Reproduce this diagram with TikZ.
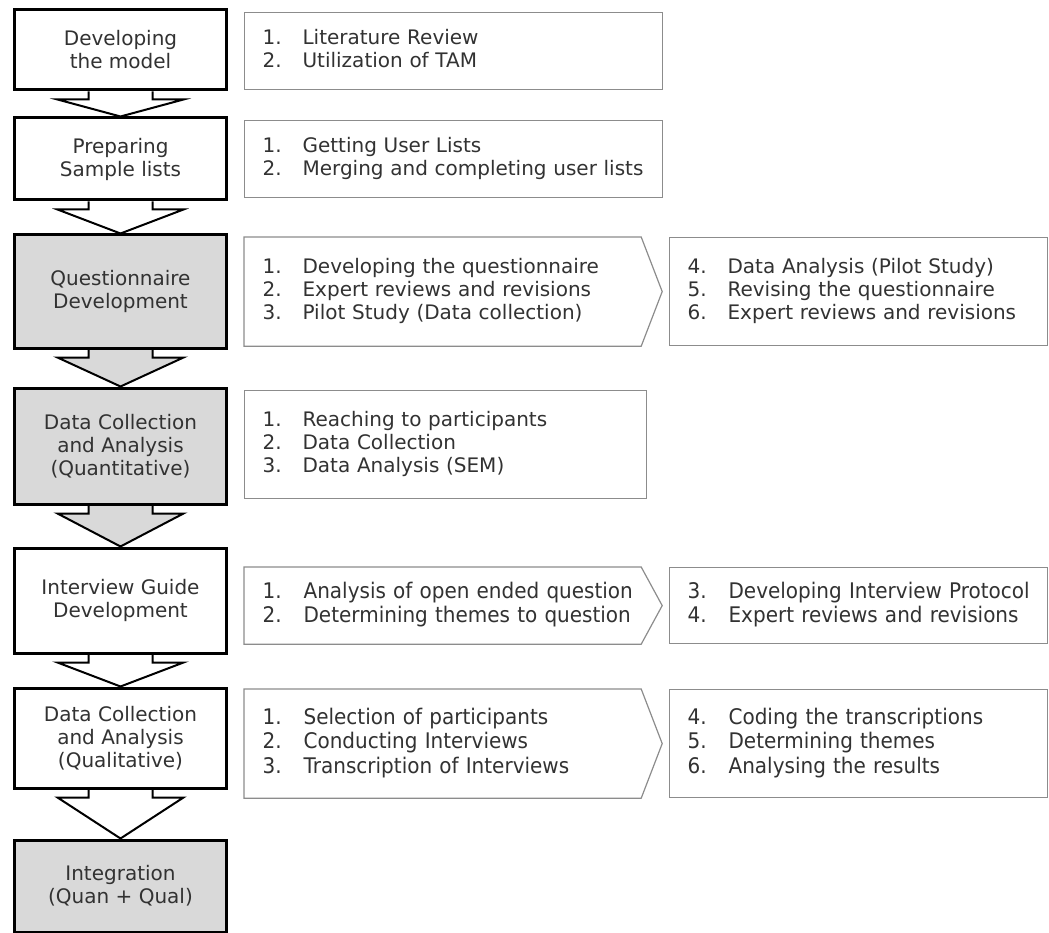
\documentclass[tikz,border=0pt]{standalone}
\usepackage{fontspec}
\setmainfont{DejaVu Sans}
\newfontfamily\narrowfont[FakeStretch=0.93]{DejaVu Sans}
\usepackage{xcolor}
\usetikzlibrary{calc,backgrounds}

\definecolor{boxgray}{RGB}{217,217,217}
\definecolor{linegray}{RGB}{140,140,140}
\definecolor{textgray}{RGB}{50,50,50}

\begin{document}
\begin{tikzpicture}[x=1pt, y=-1pt,
    stepbox/.style={draw, line width=3pt, fill=white, minimum width=212pt, inner sep=0pt,
        align=center, text=textgray, font=\fontsize{20}{23}\selectfont},
    listbox/.style={draw=linegray, line width=1.2pt, fill=white, anchor=north west,
        inner xsep=18pt, inner ysep=0pt, align=left, text=textgray, font=\fontsize{20}{23}\selectfont},
    narrowbox/.style={listbox, font=\narrowfont\fontsize{21.5}{24.5}\selectfont},
    listline/.style={draw=linegray, line width=1.2pt},
    flowarrow/.style={draw, line width=2pt, line join=miter}]
    \useasboundingbox (0,0) rectangle (1049,933);

    % Steps
    \node[stepbox, minimum height=80pt] (model) at (120.5,50) {Developing\\the model};
    \node[stepbox, minimum height=82pt] (sample) at (120.5,159) {Preparing\\Sample lists};
    \node[stepbox, minimum height=113pt, fill=boxgray] (quest) at (120.5,291.5) {Questionnaire\\Development};
    \node[stepbox, minimum height=116pt, fill=boxgray] (quant) at (120.5,446) {Data Collection\\and Analysis\\(Quantitative)};
    \node[stepbox, minimum height=105pt] (guide) at (120.5,600.5) {Interview Guide\\Development};
    \node[stepbox, minimum height=100pt] (qual) at (120.5,738) {Data Collection\\and Analysis\\(Qualitative)};
    \node[stepbox, minimum height=92pt, fill=boxgray] (integ) at (120.5,886) {Integration\\(Quan + Qual)};

    % Tasks
    \node[listbox, text width=382pt, minimum height=77pt] (modeltasks) at (244,12) {
        \begin{tabular}{@{}p{40pt}@{}l@{}}
        1. & Literature Review\\
        2. & Utilization of TAM
        \end{tabular}
    };
    \node[listbox, text width=382pt, minimum height=77pt] (sampletasks) at (244,120) {
        \begin{tabular}{@{}p{40pt}@{}l@{}}
        1. & Getting User Lists\\
        2. & Merging and completing user lists
        \end{tabular}
    };
    \node[listbox, draw=none, text width=360pt, minimum height=108pt] (questtasksA) at (244,237) {
        \begin{tabular}{@{}p{40pt}@{}l@{}}
        1. & Developing the questionnaire\\
        2. & Expert reviews and revisions\\
        3. & Pilot Study (Data collection)
        \end{tabular}
    };
    \node[listbox, text width=342pt, minimum height=108pt] (questtasksB) at (669,237) {
        \begin{tabular}{@{}p{40pt}@{}l@{}}
        4. & Data Analysis (Pilot Study)\\
        5. & Revising the questionnaire\\
        6. & Expert reviews and revisions
        \end{tabular}
    };
    \node[listbox, text width=366pt, minimum height=108pt] (quanttasks) at (244,390) {
        \begin{tabular}{@{}p{40pt}@{}l@{}}
        1. & Reaching to participants\\
        2. & Data Collection\\
        3. & Data Analysis (SEM)
        \end{tabular}
    };
    \node[narrowbox, draw=none, text width=360pt, minimum height=76pt] (guidetasksA) at (244,567) {
        \begin{tabular}{@{}p{41pt}@{}l@{}}
        1. & Analysis of open ended question\\
        2. & Determining themes to question
        \end{tabular}
    };
    \node[narrowbox, text width=342pt, minimum height=76pt] (guidetasksB) at (669,567) {
        \begin{tabular}{@{}p{41pt}@{}l@{}}
        3. & Developing Interview Protocol\\
        4. & Expert reviews and revisions
        \end{tabular}
    };
    \node[narrowbox, draw=none, text width=360pt, minimum height=108pt] (qualtasksA) at (244,689) {
        \begin{tabular}{@{}p{41pt}@{}l@{}}
        1. & Selection of participants\\
        2. & Conducting Interviews\\
        3. & Transcription of Interviews
        \end{tabular}
    };
    \node[narrowbox, text width=342pt, minimum height=108pt] (qualtasksB) at (669,689) {
        \begin{tabular}{@{}p{41pt}@{}l@{}}
        4. & Coding the transcriptions\\
        5. & Determining themes\\
        6. & Analysing the results
        \end{tabular}
    };

    % Chevron outlines
    \foreach \n in {questtasksA, guidetasksA, qualtasksA}
        \draw[listline] (\n.north west) -- (\n.north east) -- ([xshift=21pt]\n.east)
            -- (\n.south east) -- (\n.south west) -- cycle;

    % Block arrows
    \begin{scope}[on background layer]
    \foreach \a/\b/\c in {model/sample/white, sample/quest/white, quest/quant/boxgray,
                          quant/guide/boxgray, guide/qual/white, qual/integ/white}
        \draw[flowarrow, fill=\c] ($(\a.south)+(-32,0)$) -- ($(\a.south)+(-32,8)$)
            -- ($(\a.south)+(-63,8)$) -- (\b.north) -- ($(\a.south)+(63,8)$)
            -- ($(\a.south)+(32,8)$) -- ($(\a.south)+(32,0)$);
    \end{scope}
\end{tikzpicture}
\end{document}
